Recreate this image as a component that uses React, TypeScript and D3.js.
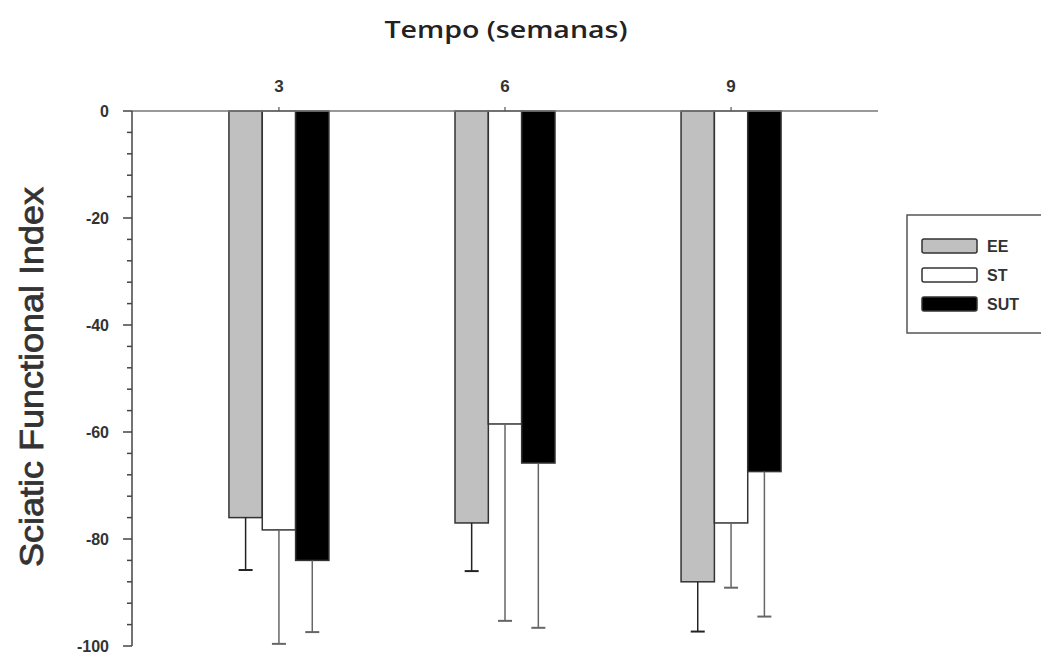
import React, { useEffect, useRef } from 'react'
import * as d3 from 'd3'

// semanas
const weeks = ['3', '6', '9']
const series = ['EE', 'ST', 'SUT']
const fills = ['#c0c0c0', '#ffffff', '#000000']
const errColors = ['#222', '#666', '#666']

// mean SFI and SD (error bars drawn downward only)
const eeMean = [-76.0, -77.0, -88.0]
const stMean = [-78.3, -58.5, -77.0]
const sutMean = [-84.0, -65.8, -67.4]
const eeSd = [9.8, 9.0, 9.3]
const stSd = [21.3, 36.8, 12.1]
const sutSd = [13.4, 30.8, 27.1]

const yTicks = [0, -20, -40, -60, -80, -100]

export default function App() {
  const ref = useRef<SVGSVGElement>(null)

  useEffect(() => {
    const node = ref.current
    if (!node) return
    const svg = d3.select(node)
    svg.selectAll('*').remove()

    const means = [eeMean, stMean, sutMean]
    const sds = [eeSd, stSd, sutSd]

    const x = d3.scalePoint().domain(weeks).range([132, 878]).padding(0.65)
    const inner = d3.scaleBand().domain(series).range([-50, 50]).padding(0)
    const y = d3.scaleLinear().domain([0, -100]).range([111, 646])

    // bars
    series.forEach((s, si) => {
      const g = svg.append('g')
      weeks.forEach((w, wi) => {
        const x0 = (x(w) as number) + (inner(s) as number)
        const v = means[si][wi]
        g.append('rect')
          .attr('x', x0)
          .attr('y', y(0))
          .attr('width', inner.bandwidth())
          .attr('height', y(v) - y(0))
          .attr('fill', fills[si])
          .attr('stroke', '#333')
          .attr('stroke-width', 1.5)
        const cx = x0 + inner.bandwidth() / 2
        const lo = v - sds[si][wi]
        g.append('line')
          .attr('x1', cx).attr('x2', cx)
          .attr('y1', y(v)).attr('y2', y(lo))
          .attr('stroke', errColors[si]).attr('stroke-width', 1.5)
        g.append('line')
          .attr('x1', cx - 7).attr('x2', cx + 7)
          .attr('y1', y(lo)).attr('y2', y(lo))
          .attr('stroke', errColors[si]).attr('stroke-width', 2)
      })
    })

    // top axis (x at y = 0)
    svg.append('line')
      .attr('x1', 132).attr('x2', 878)
      .attr('y1', y(0)).attr('y2', y(0))
      .attr('stroke', '#777').attr('stroke-width', 1.5)
    weeks.forEach(w => {
      svg.append('line')
        .attr('x1', x(w) as number).attr('x2', x(w) as number)
        .attr('y1', y(0)).attr('y2', y(0) - 4)
        .attr('stroke', '#555').attr('stroke-width', 1.2)
      svg.append('text')
        .attr('x', x(w) as number)
        .attr('y', 92)
        .attr('text-anchor', 'middle')
        .attr('font-family', 'Liberation Sans, Arial, sans-serif')
        .attr('font-weight', 'bold')
        .attr('font-size', 17)
        .attr('fill', '#333')
        .text(w)
    })

    // left axis
    const ax = 132
    svg.append('line')
      .attr('x1', ax).attr('x2', ax)
      .attr('y1', y(0)).attr('y2', y(-100))
      .attr('stroke', '#444').attr('stroke-width', 1.5)
    d3.range(0, -101, -4).forEach(v => {
      const major = v % 20 === 0
      svg.append('line')
        .attr('x1', major ? ax - 9 : ax - 5).attr('x2', ax)
        .attr('y1', y(v)).attr('y2', y(v))
        .attr('stroke', '#444').attr('stroke-width', 1.5)
    })
    yTicks.forEach(v => {
      svg.append('text')
        .attr('x', 109)
        .attr('y', y(v) + 6)
        .attr('text-anchor', 'end')
        .attr('font-family', 'Liberation Sans, Arial, sans-serif')
        .attr('font-weight', 'bold')
        .attr('font-size', 16)
        .attr('fill', '#333')
        .text(v)
    })

    // titles
    svg.append('text')
      .attr('x', 506)
      .attr('y', 38)
      .attr('text-anchor', 'middle')
      .attr('font-family', 'Open Sans, sans-serif')
      .attr('font-weight', 600)
      .attr('font-size', 24)
      .attr('textLength', 243)
      .attr('lengthAdjust', 'spacingAndGlyphs')
      .attr('fill', '#222')
      .text('Tempo (semanas)')

    svg.append('text')
      .attr('transform', 'translate(43,377) rotate(-90)')
      .attr('text-anchor', 'middle')
      .attr('font-family', 'Liberation Sans, Arial, sans-serif')
      .attr('font-size', 33)
      .attr('textLength', 380)
      .attr('lengthAdjust', 'spacingAndGlyphs')
      .attr('fill', '#333')
      .attr('stroke', '#333')
      .attr('stroke-width', 0.8)
      .text('Sciatic Functional Index')

    // legend
    const lg = svg.append('g')
    lg.append('rect')
      .attr('x', 907).attr('y', 215)
      .attr('width', 200).attr('height', 118)
      .attr('fill', 'white')
      .attr('stroke', '#555').attr('stroke-width', 1.5)
    series.forEach((s, i) => {
      const yy = 239 + i * 29
      lg.append('rect')
        .attr('x', 922).attr('y', yy)
        .attr('width', 55).attr('height', 14)
        .attr('rx', 2)
        .attr('fill', fills[i])
        .attr('stroke', '#333').attr('stroke-width', 1.5)
      lg.append('text')
        .attr('x', 987)
        .attr('y', yy + 13)
        .attr('font-family', 'Liberation Sans, Arial, sans-serif')
        .attr('font-weight', 'bold')
        .attr('font-size', 16)
        .attr('fill', '#333')
        .text(s)
    })
  }, [])

  return (
    <>
      <style>{'body{margin:0}'}</style>
      <svg ref={ref} width={1041} height={657} style={{ display: 'block', background: 'white' }} />
    </>
  )
}
